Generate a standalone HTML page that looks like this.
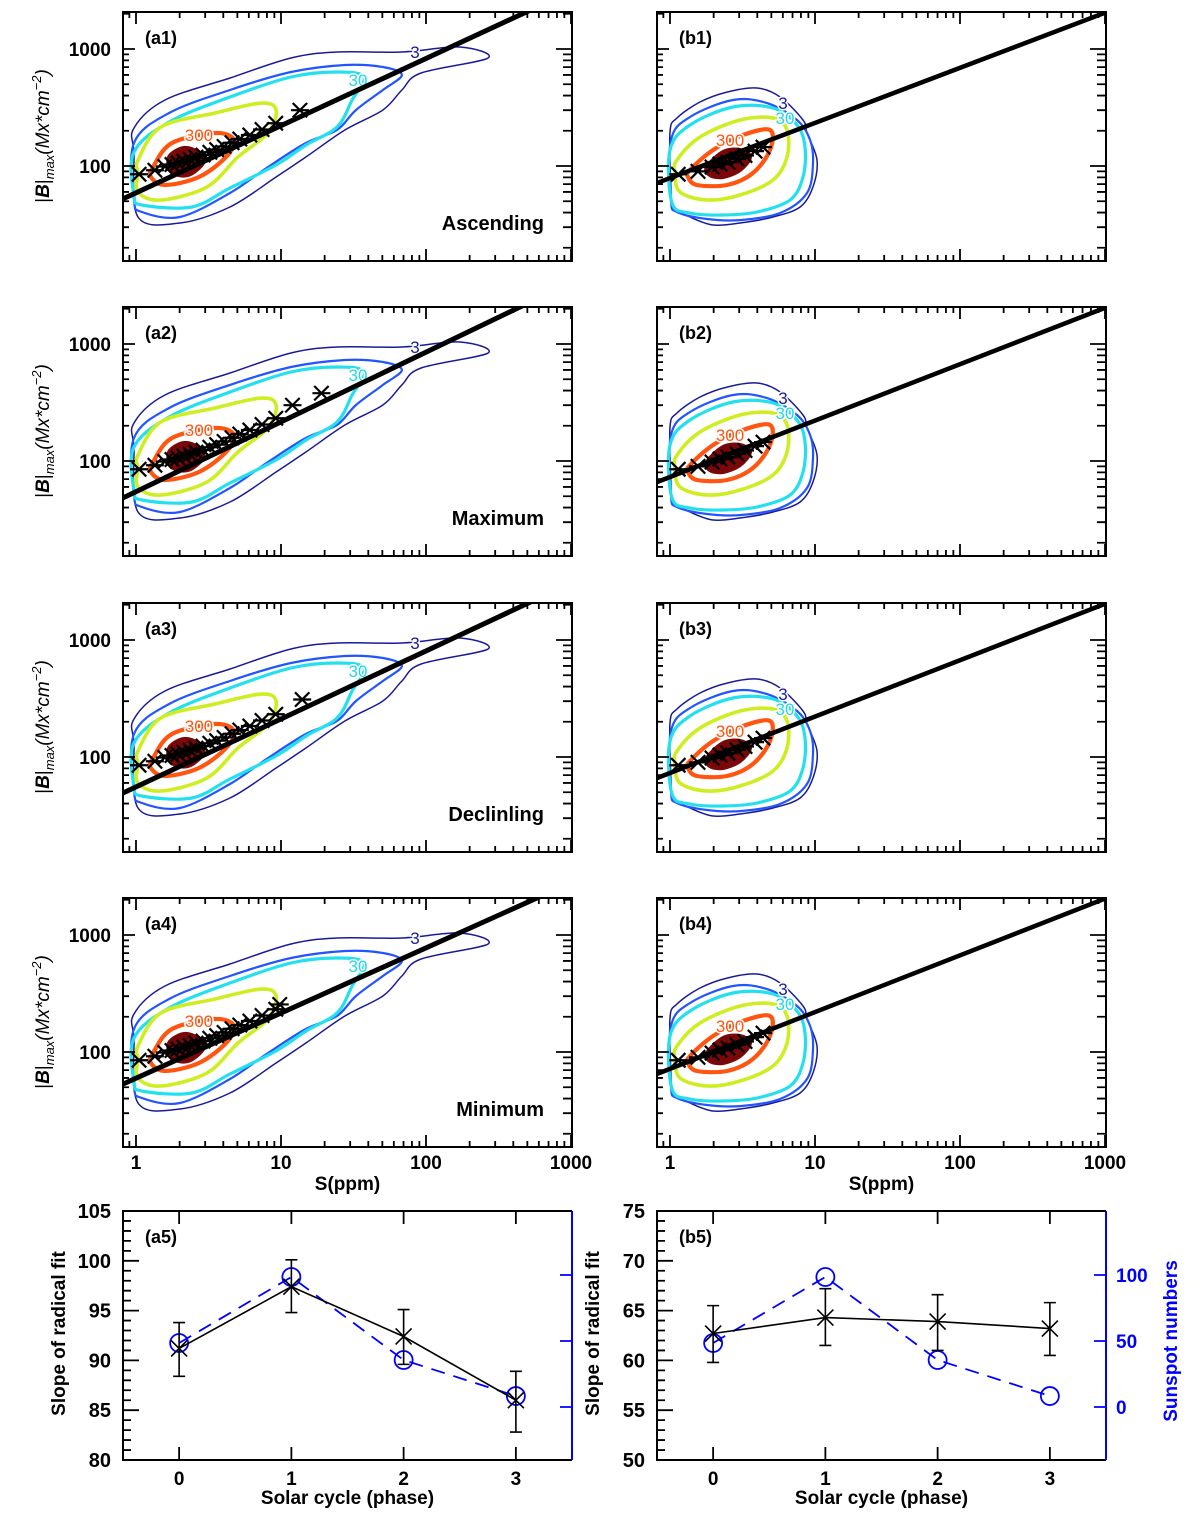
<!DOCTYPE html>
<html><head><meta charset="utf-8"><style>
html,body{margin:0;padding:0;background:#fff;}
svg{display:block;font-family:"Liberation Sans",Arial,sans-serif;}
</style></head><body>
<svg id="fig" width="1200" height="1517" viewBox="0 0 1200 1517" xmlns="http://www.w3.org/2000/svg"></svg>
<script>
// ---------- DATA (log10 S, log10 B) contour templates ----------
const aLev3=[[-0.014,2.111],[-0.014,2.325],[0.2,2.564],[0.648,2.752],[1.069,2.923],[1.386,2.974],[1.834,2.974],[2.234,3.017],[2.428,2.923],[1.966,2.795],[1.834,2.650],[1.703,2.479],[1.441,2.308],[1.172,2.077],[0.966,1.906],[0.648,1.650],[0.303,1.513],[0.014,1.564]];
const aLev10=[[-0.014,2.197],[0.228,2.453],[0.648,2.650],[1.069,2.803],[1.441,2.863],[1.703,2.846],[1.834,2.778],[1.703,2.650],[1.517,2.479],[1.386,2.308],[1.172,2.197],[0.910,1.991],[0.648,1.769],[0.303,1.564],[0.041,1.607],[-0.014,1.709]];
const aLev30=[[-0.014,2.120],[0.228,2.376],[0.648,2.590],[1.069,2.761],[1.386,2.803],[1.572,2.761],[1.490,2.564],[1.386,2.333],[1.172,2.179],[0.966,2.009],[0.648,1.812],[0.386,1.650],[0.041,1.667],[-0.014,1.752]];
const aLev100=[[0.014,1.940],[0.014,2.051],[0.172,2.333],[0.545,2.453],[0.862,2.538],[0.966,2.479],[0.910,2.282],[0.703,2.077],[0.490,1.821],[0.172,1.709],[0.014,1.778]];
const aLev300=[[0.117,1.991],[0.248,2.197],[0.545,2.282],[0.676,2.222],[0.621,2.077],[0.434,1.906],[0.200,1.838],[0.103,1.906]];
const aLev1000=[[0.228,2.077],[0.331,2.154],[0.434,2.111],[0.462,2.026],[0.359,1.923],[0.248,1.949]];
const bLev3=[[0,2.291],[0.048,2.410],[0.207,2.547],[0.393,2.632],[0.6,2.667],[0.759,2.590],[0.917,2.393],[0.945,2.282],[1.014,2.051],[0.986,1.821],[0.897,1.650],[0.710,1.564],[0.483,1.513],[0.297,1.496],[0.138,1.564],[0.021,1.650],[0.007,1.795]];
const bLev10=[[0.007,2.222],[0.138,2.419],[0.434,2.564],[0.669,2.538],[0.876,2.393],[0.966,2.222],[0.986,2.026],[0.945,1.769],[0.759,1.598],[0.483,1.538],[0.255,1.547],[0.048,1.607],[0.007,1.709]];
const bLev30=[[0,2.137],[0.138,2.350],[0.434,2.504],[0.710,2.496],[0.876,2.350],[0.931,2.162],[0.917,1.906],[0.828,1.709],[0.600,1.607],[0.366,1.581],[0.138,1.598],[0.014,1.684]];
const bLev100=[[0.048,2.051],[0.207,2.248],[0.483,2.393],[0.710,2.410],[0.807,2.308],[0.807,2.077],[0.710,1.880],[0.483,1.752],[0.255,1.709],[0.069,1.778],[0.034,1.940]];
const bLev300=[[0.138,1.966],[0.297,2.137],[0.503,2.265],[0.690,2.308],[0.690,2.137],[0.572,1.940],[0.393,1.838],[0.186,1.838],[0.124,1.906]];
const bLev1000=[[0.255,1.991],[0.366,2.120],[0.483,2.137],[0.552,2.077],[0.483,1.966],[0.366,1.906],[0.276,1.923]];
const aLabelPos=[[0.434,2.265],[1.531,2.735],[1.924,2.974]];
const bLabelPos=[[0.414,2.222],[0.793,2.41],[0.779,2.538]];
const contourLabels=["300","30","3"];
// binned stars (S in ppm, B in Mx cm^-2)
const aStarS=[1.05,1.35,1.58,1.77,1.95,2.14,2.36,2.59,2.9,3.23,3.6,4.05,4.6,5.2,6.1,7.4,9.2];
const aStarB=[85,92,99,103,106,110,114,119,124,131,138,147,158,170,184,205,232];
const a1TailS=[13.5], a1TailB=[300];
const a2TailS=[12,19], a2TailB=[300,380];
const a3TailS=[14], a3TailB=[310];
const a4TailS=[9.8], a4TailB=[255];
const bStarS=[1.14,1.56,1.95,2.21,2.51,2.9,3.29,3.86,4.38];
const bStarB=[85,90,98,104,108,115,123,134,145];
// radical fits: B = k * S^p
const fitK=[59,54.7,55.5,59.7,78.9,73,73,71.8];
const fitP=[0.574,0.596,0.581,0.557,0.471,0.482,0.482,0.485];
const phaseNames=["Ascending","Maximum","Declinling","Minimum"];
// bottom panels
const phases=[0,1,2,3];
const aSlope=[91.2,97.4,92.4,86.0];
const aErrHi=[93.8,100.1,95.1,88.9];
const aErrLo=[88.4,94.8,89.6,82.8];
const bSlope=[62.7,64.3,63.9,63.2];
const bErrHi=[65.5,67.2,66.6,65.8];
const bErrLo=[59.8,61.5,61.0,60.5];
const sunspots=[48.5,98.5,35.6,8.3];
const aYTicks=[80,85,90,95,100,105];
const bYTicks=[50,55,60,65,70,75];
const ssTicks=[0,50,100];

// ---------- helpers ----------
const NS="http://www.w3.org/2000/svg";
const svg=document.getElementById('fig');
function mk(tag,attrs,parent){const e=document.createElementNS(NS,tag);for(const k in attrs)e.setAttribute(k,attrs[k]);(parent||svg).appendChild(e);return e;}
function txt(str,x,y,opts,parent){const t=mk('text',Object.assign({x:x,y:y,'font-size':19,'font-weight':'bold',fill:'#000'},opts||{}),parent);t.textContent=str;return t;}
function smooth(pts){let d='';const n=pts.length;for(let i=0;i<n;i++){const p0=pts[(i-1+n)%n],p1=pts[i],p2=pts[(i+1)%n],p3=pts[(i+2)%n];if(i===0)d+='M'+p1[0].toFixed(1)+','+p1[1].toFixed(1);const c1=[p1[0]+(p2[0]-p0[0])/6,p1[1]+(p2[1]-p0[1])/6],c2=[p2[0]-(p3[0]-p1[0])/6,p2[1]-(p3[1]-p1[1])/6];d+='C'+c1[0].toFixed(1)+','+c1[1].toFixed(1)+' '+c2[0].toFixed(1)+','+c2[1].toFixed(1)+' '+p2[0].toFixed(1)+','+p2[1].toFixed(1);}return d+'Z';}
function star(g,x,y,s){const d='M'+(x-s)+','+y+'H'+(x+s)+'M'+(x-s*.8)+','+(y-s*.8)+'L'+(x+s*.8)+','+(y+s*.8)+'M'+(x-s*.8)+','+(y+s*.8)+'L'+(x+s*.8)+','+(y-s*.8);const p=mk('path',{d:d,stroke:'#000','stroke-width':2.2,fill:'none'},g);}

const W=449,H=249;
const colLeft=[123,657];
const rowTop=[12,307,603,898];
const levelStyle=[['#1a1a99',1.5],['#2255ff',2.2],['#22e0ee',3.2],['#cfee22',3.6],['#ff5511',4.2],['#7a0808',4]];

function logPanel(idx){
  const col=idx<4?0:1,row=idx%4;const L=colLeft[col],T=rowTop[row];
  const xOf=ls=>L+13+145*ls, yOf=lb=>T+37+(3-lb)*117;
  const g=mk('g',{});
  const cid='clip'+idx;const cp=mk('clipPath',{id:cid},g);mk('rect',{x:L,y:T,width:W,height:H},cp);
  const inner=mk('g',{'clip-path':'url(#'+cid+')'},g);
  const levs=col?[bLev3,bLev10,bLev30,bLev100,bLev300,bLev1000]:[aLev3,aLev10,aLev30,aLev100,aLev300,aLev1000];
  const lvNames=['3','10','30','100','300','1000'];
  levs.forEach((lv,i)=>{const pts=lv.map(p=>[xOf(p[0]),yOf(p[1])]);const p=mk('path',{d:smooth(pts),fill:i===5?'#7a0808':'none',stroke:levelStyle[i][0],'stroke-width':levelStyle[i][1],'stroke-linejoin':'round'},inner);});
  const lp=col?bLabelPos:aLabelPos;const lcol=['#ff5511','#22d8e8','#1a1a99'];
  lp.forEach((p,i)=>{const t=txt(contourLabels[i],xOf(p[0]),yOf(p[1])+6,{'font-size':17,'font-weight':'normal',fill:lcol[i],'text-anchor':'middle',stroke:'#fff','stroke-width':3,'paint-order':'stroke'},inner);});
  // fit line
  const ls0=-0.1,ls1=3.1;const lk=Math.log10(fitK[idx]),pp=fitP[idx];
  const fl=mk('line',{x1:xOf(ls0),y1:yOf(lk+pp*ls0),x2:xOf(ls1),y2:yOf(lk+pp*ls1),stroke:'#000','stroke-width':col?4.5:5},inner);
  
  // stars
  let S,B;
  if(col){S=bStarS;B=bStarB;}else{const ts=[a1TailS,a2TailS,a3TailS,a4TailS][row],tb=[a1TailB,a2TailB,a3TailB,a4TailB][row];S=aStarS.concat(ts);B=aStarB.concat(tb);}
  S.forEach((s,i)=>star(inner,xOf(Math.log10(s)),yOf(Math.log10(B[i])),9));
  // frame
  const fr=mk('rect',{x:L,y:T,width:W,height:H,fill:'none',stroke:'#000','stroke-width':2},g);
  // ticks
  let td='';
  for(let dec=-1;dec<=2;dec++)for(let m=1;m<=9;m++){const ls=dec+Math.log10(m);const x=xOf(ls);if(x<L+1||x>L+W+0.5)continue;const len=m===1?12:6;td+='M'+x+','+(T+H)+'v'+(-len)+'M'+x+','+T+'v'+len;}
  {const x=xOf(3);td+='M'+x+','+(T+H)+'v-12M'+x+','+T+'v12';}
  for(let dec=1;dec<=3;dec++)for(let m=1;m<=9;m++){const lb=dec+Math.log10(m);const y=yOf(lb);if(y<T+1||y>T+H-1)continue;const big=m===1;td+='M'+L+','+y+'h'+(big?12:6)+'M'+(L+W)+','+y+'h'+(big?-16:-9);}
  const tk=mk('path',{d:td,stroke:'#000','stroke-width':1.8,fill:'none'},g);
  const pl=txt('('+(col?'b':'a')+(row+1)+')',L+22,T+32,{'font-size':18},g);
  if(!col){
    ['1000','100'].forEach((s,i)=>{const t=txt(s,L-12,yOf(3-i)+7,{'text-anchor':'end','font-size':19},g);});
    const ph=txt(phaseNames[row],L+W-28,T+218,{'text-anchor':'end','font-size':20},g);
    const yt=mk('text',{transform:'translate('+(L-74)+','+(T+124)+') rotate(-90)','text-anchor':'middle','font-size':19,fill:'#000'},g);
    
    yt.innerHTML='|<tspan font-style="italic" font-weight="bold">B</tspan>|<tspan font-size="13" dy="5" font-style="italic">max</tspan><tspan dy="-5" font-style="italic">(Mx*cm</tspan><tspan font-size="13" dy="-8" font-style="italic">−2</tspan><tspan dy="8" font-style="italic">)</tspan>';
  }
  if(row===3){
    ['1','10','100','1000'].forEach((s,i)=>{const t=txt(s,xOf(i),T+H+22,{'text-anchor':'middle','font-size':19},g);});
    const xt=txt('S(ppm)',L+W/2,T+H+43,{'text-anchor':'middle','font-size':19},g);
  }
}
for(let i=0;i<8;i++)logPanel(i);

function slopePanel(col){
  const L=colLeft[col],T=1211;const ymin=col?50:80;
  const xOf=p=>L+(p+0.5)*W/4, yOf=v=>T+H-(v-ymin)*H/25, sOf=v=>1407-v*1.32;
  const g=mk('g',{});
  const fr=mk('path',{d:'M'+(L+W)+','+T+'H'+L+'V'+(T+H)+'H'+(L+W),stroke:'#000','stroke-width':2,fill:'none'},g);
  const ra=mk('line',{x1:L+W,y1:T,x2:L+W,y2:T+H,stroke:'#0000ff','stroke-width':2},g);
  let td='';
  for(let v=ymin;v<=ymin+25;v++){const y=yOf(v);const big=(v-ymin)%5===0;td+='M'+L+','+y+'h'+(big?16:8);}
  phases.forEach(p=>{const x=xOf(p);td+='M'+x+','+(T+H)+'v-13M'+x+','+T+'v13';});
  const tk=mk('path',{d:td,stroke:'#000','stroke-width':1.8,fill:'none'},g);
  let sd='';ssTicks.forEach(v=>{sd+='M'+(L+W)+','+sOf(v)+'h-12';});
  const st=mk('path',{d:sd,stroke:'#0000ff','stroke-width':1.8},g);
  (col?bYTicks:aYTicks).forEach(v=>{const t=txt(String(v),L-12,yOf(v)+7,{'text-anchor':'end','font-size':20},g);});
  phases.forEach(p=>{const t=txt(String(p),xOf(p),T+H+25,{'text-anchor':'middle','font-size':19},g);});
  const xt=txt('Solar cycle (phase)',L+W/2,T+H+44,{'text-anchor':'middle','font-size':19},g);
  const yt=txt('Slope of radical fit',0,0,{transform:'translate('+(L-58)+','+(T+H/2-2)+') rotate(-90)','text-anchor':'middle','font-size':19},g);
  const pl=txt('('+(col?'b5':'a5')+')',L+22,T+32,{'font-size':18},g);
  if(col){
    ssTicks.forEach(v=>{const t=txt(String(v),L+W+10,sOf(v)+7,{'font-size':19,fill:'#0000ff'},g);});
    const rt=txt('Sunspot numbers',0,0,{transform:'translate('+(L+W+71)+','+(1341)+') rotate(-90)','text-anchor':'middle','font-size':19,fill:'#0000ff'},g);
  }
  const sl=col?bSlope:aSlope,hi=col?bErrHi:aErrHi,lo=col?bErrLo:aErrLo;
  const sp=mk('polyline',{points:phases.map((p,i)=>xOf(p)+','+sOf(sunspots[i])).join(' '),fill:'none',stroke:'#0000ff','stroke-width':1.8,'stroke-dasharray':'14,9'},g);
  phases.forEach((p,i)=>{const c=mk('circle',{cx:xOf(p),cy:sOf(sunspots[i]),r:9,fill:'none',stroke:'#0000ff','stroke-width':1.8},g);});
  const sline=mk('polyline',{points:phases.map((p,i)=>xOf(p)+','+yOf(sl[i])).join(' '),fill:'none',stroke:'#000','stroke-width':1.6},g);
  phases.forEach((p,i)=>{const x=xOf(p);const e=mk('path',{d:'M'+x+','+yOf(hi[i])+'V'+yOf(lo[i])+'M'+(x-6)+','+yOf(hi[i])+'h12M'+(x-6)+','+yOf(lo[i])+'h12',stroke:'#000','stroke-width':1.6,fill:'none'},g);
    const y=yOf(sl[i]);const m=mk('path',{d:'M'+(x-8)+','+(y-8)+'L'+(x+8)+','+(y+8)+'M'+(x-8)+','+(y+8)+'L'+(x+8)+','+(y-8),stroke:'#000','stroke-width':1.6},g);});
}
slopePanel(0);slopePanel(1);
</script>
</body></html>
